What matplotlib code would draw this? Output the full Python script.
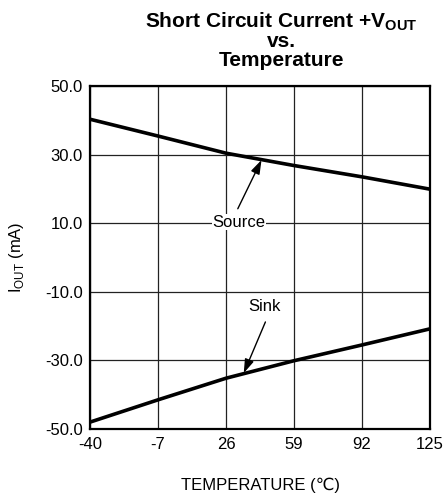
import matplotlib
matplotlib.use("Agg")
import matplotlib.pyplot as plt

plt.rcParams['font.family'] = ['Liberation Sans', 'DejaVu Sans']

# data
temperature = [-40, -7, 26, 59, 92, 125]
source_ma = [40.3, 35.4, 30.4, 26.8, 23.5, 19.9]
sink_ma = [-48.0, -41.5, -35.2, -30.1, -25.5, -20.8]

x_ticks = [-40, -7, 26, 59, 92, 125]
y_ticks = [-50.0, -30.0, -10.0, 10.0, 30.0, 50.0]

fig = plt.figure(figsize=(4.44, 4.98), dpi=100)
ax = fig.add_axes([0.2027, 0.1386, 0.7660, 0.6888])

ax.plot(temperature, source_ma, color='black', lw=2.6, solid_capstyle='butt')
ax.plot(temperature, sink_ma, color='black', lw=2.6, solid_capstyle='butt')

ax.set_xlim(-40, 125)
ax.set_ylim(-50, 50)
ax.set_xticks(x_ticks)
ax.set_xticklabels([str(t) for t in x_ticks])
ax.set_yticks(y_ticks)
ax.set_yticklabels(['%.1f' % v for v in y_ticks])
ax.tick_params(length=0, labelsize=12)
ax.tick_params(axis='x', pad=6)
ax.tick_params(axis='y', pad=5)
ax.grid(True, color='#222222', lw=0.9)
ax.set_axisbelow(True)
for s in ax.spines.values():
    s.set_linewidth(1.6)

# annotations
arrow = dict(arrowstyle='-|>,head_length=0.6,head_width=0.2', color='black',
             lw=1.0, mutation_scale=14, shrinkA=0, shrinkB=0)
ax.annotate('', xy=(43.2, 28.4), xytext=(31.7, 14.2), arrowprops=arrow)
ax.text(32.2, 10.3, 'Source', fontsize=12, ha='center', va='center',
        bbox=dict(facecolor='white', edgecolor='none', pad=0.5))
ax.annotate('', xy=(34.6, -33.7), xytext=(45.1, -18.8), arrowprops=arrow)
ax.text(44.7, -14.4, 'Sink', fontsize=12, ha='center', va='center')

ax.set_xlabel('TEMPERATURE (\u2103)', fontsize=12, labelpad=18)
ax.set_ylabel('I$_{\\mathregular{OUT}}$ (mA)', fontsize=12, labelpad=14)

# title in three lines
title_kw = dict(fontsize=15, fontweight='bold', ha='center', va='baseline')
fig.text(0.633, 0.9458, 'Short Circuit Current +V$_{\\mathregular{OUT}}$', **title_kw)
fig.text(0.633, 0.9050, 'vs.', **title_kw)
fig.text(0.633, 0.8675, 'Temperature', **title_kw)

fig.savefig('out.png', dpi=100)
